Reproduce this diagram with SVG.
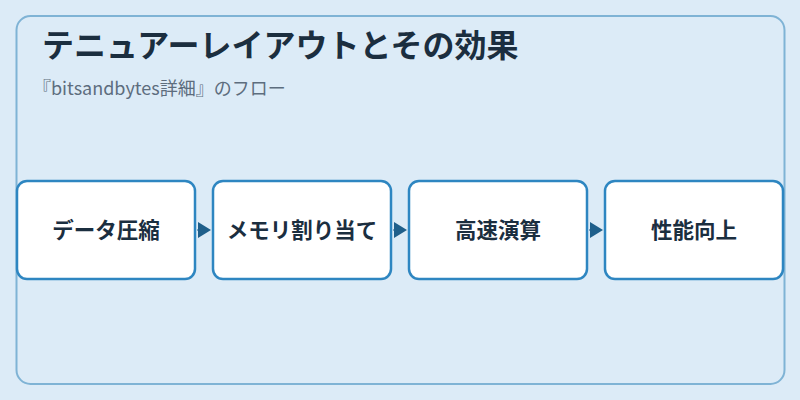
<svg xmlns="http://www.w3.org/2000/svg" width="800" height="400" viewBox="0 0 800 400">
  <defs>
    <style>
      .panel { fill: #dcebf7; stroke: #7fb3d5; stroke-width: 2; }
      .node rect { fill: #ffffff; stroke: #2e86c1; stroke-width: 2.5; }
      .node text { font-family: "Noto Sans CJK JP", "Noto Sans", sans-serif; font-size: 21.5px; font-weight: bold; fill: #1b2e3f; text-anchor: middle; }
      .title { font-family: "Noto Sans CJK JP", "Noto Sans", sans-serif; font-size: 32px; font-weight: bold; fill: #1b2e3f; }
      .subtitle { font-family: "Noto Sans CJK JP", "Noto Sans", sans-serif; font-size: 18px; fill: #5d6d7e; }
      .conn { stroke: #1f5f8b; stroke-width: 1; fill: none; }
    </style>
    <marker id="arrow" markerUnits="userSpaceOnUse" markerWidth="14" markerHeight="16" refX="0" refY="8" orient="auto">
      <path d="M0,0 L13,8 L0,16 Z" fill="#1f5f8b"/>
    </marker>
  </defs>
  <rect width="800" height="400" fill="#dcebf7"/>
  <rect class="panel" x="16.5" y="16" width="768" height="368" rx="14"/>
  <text class="title" x="42" y="57">テニュアーレイアウトとその効果</text>
  <text class="subtitle" x="33" y="95">『bitsandbytes詳細』のフロー</text>
  <g id="connectors">
    <path class="conn" d="M197,230 L198,230" marker-end="url(#arrow)"/>
    <path class="conn" d="M393,230 L394,230" marker-end="url(#arrow)"/>
    <path class="conn" d="M589,230 L590,230" marker-end="url(#arrow)"/>
  </g>
  <g id="node1" class="node">
    <rect x="17" y="181" width="178" height="98" rx="10"/>
    <text x="106" y="238">データ圧縮</text>
  </g>
  <g id="node2" class="node">
    <rect x="213" y="181" width="178" height="98" rx="10"/>
    <text x="302" y="238">メモリ割り当て</text>
  </g>
  <g id="node3" class="node">
    <rect x="409" y="181" width="178" height="98" rx="10"/>
    <text x="498" y="238">高速演算</text>
  </g>
  <g id="node4" class="node">
    <rect x="605" y="181" width="178" height="98" rx="10"/>
    <text x="694" y="238">性能向上</text>
  </g>
</svg>
